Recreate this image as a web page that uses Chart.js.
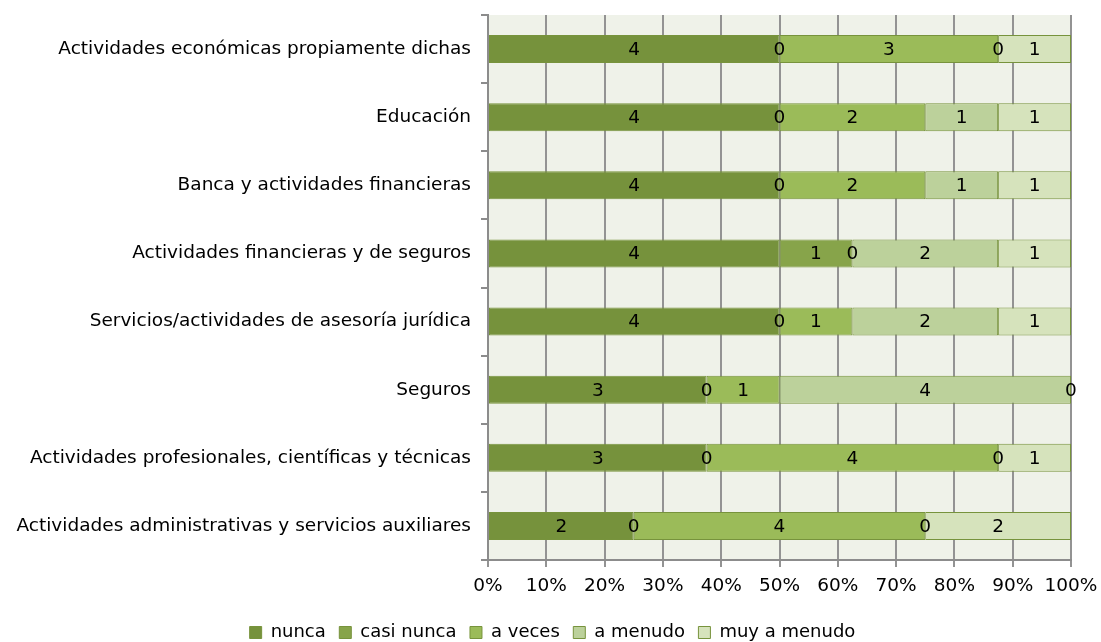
<!DOCTYPE html>
<html>
<head>
<meta charset="utf-8">
<script src="https://cdn.jsdelivr.net/npm/chart.js@4"></script>
<style>
  html, body { margin: 0; padding: 0; background: #fff; }
  #wrap { width: 1101px; height: 642px; }
</style>
</head>
<body>
<div id="wrap"><canvas id="chart" width="1101" height="642"></canvas></div>
<script>
const categories = [
  "Actividades económicas propiamente dichas",
  "Educación",
  "Banca y actividades financieras",
  "Actividades financieras y de seguros",
  "Servicios/actividades de asesoría jurídica",
  "Seguros",
  "Actividades profesionales, científicas y técnicas",
  "Actividades administrativas y servicios auxiliares"
];
const seriesNames = ["nunca", "casi nunca", "a veces", "a menudo", "muy a menudo"];
const nunca      = [4, 4, 4, 4, 4, 3, 3, 2];
const casiNunca  = [0, 0, 0, 1, 0, 0, 0, 0];
const aVeces     = [3, 2, 2, 0, 1, 1, 4, 4];
const aMenudo    = [0, 1, 1, 2, 2, 4, 0, 0];
const muyAMenudo = [1, 1, 1, 1, 1, 0, 1, 2];
const xTicks = ["0%", "10%", "20%", "30%", "40%", "50%", "60%", "70%", "80%", "90%", "100%"];

const colors = ["#76923c", "#87a44a", "#9bbb59", "#bcd19b", "#d6e3bc"];
const counts = [nunca, casiNunca, aVeces, aMenudo, muyAMenudo];
const totals = categories.map((_, i) => counts.reduce((s, arr) => s + arr[i], 0));

const FONT = "'DejaVu Sans', Verdana, sans-serif";
const FSIZE = 18.5;

const plotBg = {
  id: "plotBg",
  beforeDraw(chart) {
    const { ctx, chartArea: a } = chart;
    ctx.save();
    ctx.fillStyle = "#eff2e9";
    ctx.fillRect(a.left, a.top, a.right - a.left, a.bottom - a.top);
    ctx.restore();
  }
};

// legend in the original sits a bit right of the canvas centre
const legendShift = {
  id: "legendShift",
  afterLayout(chart) {
    chart.legend.left += 17;
    chart.legend.right += 17;
  }
};

const valueLabels = {
  id: "valueLabels",
  afterDatasetsDraw(chart) {
    const { ctx } = chart;
    ctx.save();
    ctx.font = FSIZE + "px " + FONT;
    ctx.fillStyle = "#000";
    ctx.textAlign = "center";
    ctx.textBaseline = "middle";
    chart.data.datasets.forEach((ds, di) => {
      chart.getDatasetMeta(di).data.forEach((bar, i) => {
        const x = (bar.x + bar.base) / 2;
        ctx.fillText(String(ds.counts[i]), x, bar.y + 1);
      });
    });
    ctx.restore();
  }
};

new Chart(document.getElementById("chart"), {
  type: "bar",
  data: {
    labels: categories,
    datasets: seriesNames.map((name, k) => ({
      label: name,
      counts: counts[k],
      data: counts[k].map((v, i) => v / totals[i] * 100),
      backgroundColor: colors[k],
      borderColor: "#77933c",
      borderWidth: 1,
      borderSkipped: false,
      barPercentage: 0.82,
      categoryPercentage: 0.5
    }))
  },
  options: {
    indexAxis: "y",
    responsive: false,
    animation: false,
    devicePixelRatio: 1,
    layout: { padding: { top: 15, right: 30, left: 0, bottom: -9.5 } },
    scales: {
      x: {
        stacked: true,
        min: 0,
        max: 100,
        afterFit(scale) { scale.height = 50; scale.paddingLeft = 0; scale.paddingRight = 0; },
        ticks: {
          stepSize: 10,
          maxRotation: 0,
          minRotation: 0,
          autoSkip: false,
          color: "#000",
          font: { family: FONT, size: FSIZE },
          padding: 8,
          callback: (v, i) => xTicks[i]
        },
        grid: { color: "#939393", lineWidth: 2, tickLength: 7, drawTicks: true },
        border: { color: "#8c8c8c", width: 2 }
      },
      y: {
        stacked: true,
        afterFit(scale) { scale.width = 488; scale.paddingTop = 0; scale.paddingBottom = 0; },
        ticks: {
          color: "#000",
          font: { family: FONT, size: FSIZE },
          padding: 10
        },
        grid: { offset: true, drawOnChartArea: false, color: "#8c8c8c", lineWidth: 2, tickLength: 7 },
        border: { color: "#8c8c8c", width: 2 }
      }
    },
    plugins: {
      legend: {
        position: "bottom",
        labels: {
          color: "#000",
          font: { family: FONT, size: 18 },
          boxWidth: 12,
          boxHeight: 12,
          padding: 13.5,
          generateLabels(chart) {
            return chart.data.datasets.map((ds, i) => ({
              text: ds.label,
              fillStyle: ds.backgroundColor,
              strokeStyle: "#77933c",
              lineWidth: 1,
              datasetIndex: i,
              hidden: false
            }));
          }
        }
      },
      tooltip: { enabled: false }
    }
  },
  plugins: [plotBg, legendShift, valueLabels]
});
</script>
</body>
</html>
